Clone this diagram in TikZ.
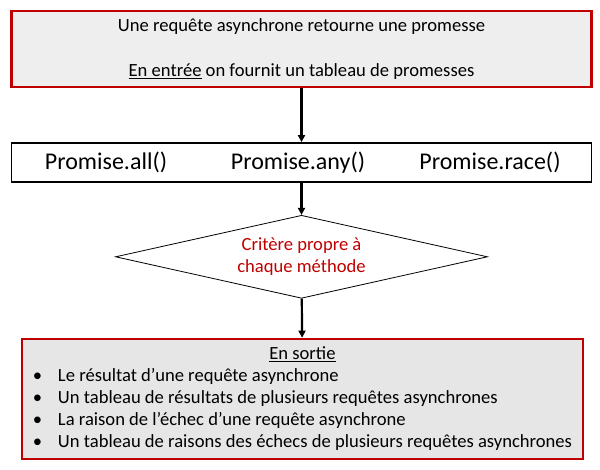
\documentclass[tikz,border=0pt]{standalone}
\usepackage{fontspec}
\setmainfont{Carlito}
\usepackage{xcolor}
\usetikzlibrary{positioning,arrows.meta,shapes.geometric}
\definecolor{PromRed}{HTML}{C00000}
\definecolor{PromGray}{HTML}{EEEEEE}
\definecolor{PromGrayOut}{HTML}{E7E6E6}

\begin{document}
\begin{tikzpicture}[
  x=1pt,y=1pt,
  redbox/.style={draw=PromRed,line width=2.2pt,align=center,inner sep=0pt,font=\fontsize{18.6}{22}\selectfont},
  methods/.style={draw,line width=1.8pt,fill=white,minimum width=580pt,minimum height=39pt,inner sep=0pt,font=\fontsize{24}{28}\selectfont},
  critere/.style={draw,diamond,line width=0.8pt,aspect=4.5,minimum width=372pt,minimum height=83pt,inner sep=0pt,align=center,text=PromRed,font=\fontsize{18.6}{22}\selectfont},
  arrow/.style={-{Triangle[length=7pt,width=7pt]},line width=2.2pt}
]
\useasboundingbox (0,0) rectangle (600,-470);
\node[redbox,fill=PromGray,minimum width=580pt,minimum height=76pt] (entree) at (301.5,-49)
  {\raisebox{-2pt}{Une requête asynchrone retourne une promesse}\\[23pt]\raisebox{-2pt}{\underline{En entrée} on fournit un tableau de promesses}};
\node[methods,below=54pt of entree] (promise)
  {\kern-7pt\makebox[193pt]{Promise.all()}\makebox[191pt]{Promise.any()}\makebox[193pt]{Promise.race()}};
\node[critere,below=32pt of promise] (critere) {Critère propre à\\chaque méthode};
\node[redbox,fill=PromGrayOut,minimum width=561pt,minimum height=120pt,below=39pt of critere,xshift=1pt] (sortie)
  {\begin{tabular}{@{}l@{}l@{}}
   \multicolumn{2}{c}{\underline{En sortie}}\\
   \makebox[25pt][l]{\textbullet} & Le résultat d’une requête asynchrone\\
   \makebox[25pt][l]{\textbullet} & Un tableau de résultats de plusieurs requêtes asynchrones\\
   \makebox[25pt][l]{\textbullet} & La raison de l’échec d’une requête asynchrone\\
   \makebox[25pt][l]{\textbullet} & Un tableau de raisons des échecs de plusieurs requêtes asynchrones
   \end{tabular}};
\draw[arrow] (entree) -- (promise);
\draw[arrow] (promise) -- (critere);
\draw[arrow] (critere) -- (sortie);
\end{tikzpicture}
\end{document}
